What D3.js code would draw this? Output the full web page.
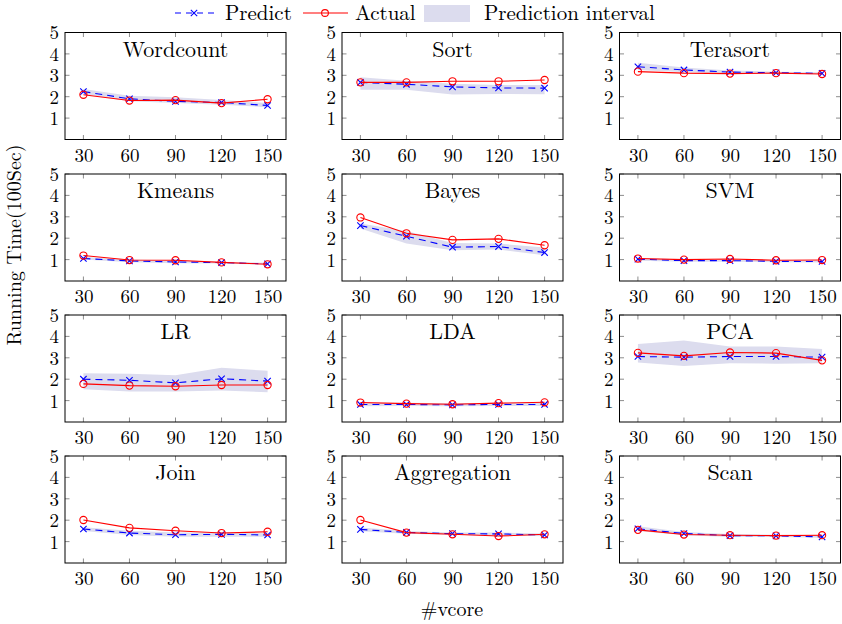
<!DOCTYPE html>
<html>
<head>
<meta charset="utf-8">
<script src="https://cdn.jsdelivr.net/npm/d3@7"></script>
<style>
  body { margin: 0; background: #fff; }
  svg { display: block; }
  text { font-family: "Latin Modern Roman", "Liberation Serif", serif; fill: #000; }
</style>
</head>
<body>
<div id="chart"></div>
<script>
// panel titles, in row order
const titles = ['Wordcount', 'Sort', 'Terasort', 'Kmeans', 'Bayes', 'SVM',
                'LR', 'LDA', 'PCA', 'Join', 'Aggregation', 'Scan'];
const vcores = [30, 60, 90, 120, 150];
const yTicks = [1, 2, 3, 4, 5];

// running time (100 sec), one row per benchmark
const predictVals = [
    [2.24, 1.90, 1.78, 1.73, 1.59],
    [2.67, 2.58, 2.46, 2.41, 2.40],
    [3.40, 3.25, 3.15, 3.12, 3.09],
    [1.05, 0.94, 0.89, 0.86, 0.80],
    [2.59, 2.09, 1.58, 1.61, 1.33],
    [1.02, 0.95, 0.95, 0.92, 0.91],
    [2.00, 1.95, 1.83, 2.02, 1.91],
    [0.82, 0.82, 0.80, 0.82, 0.82],
    [3.06, 3.03, 3.06, 3.06, 3.03],
    [1.59, 1.40, 1.32, 1.34, 1.31],
    [1.57, 1.43, 1.37, 1.36, 1.31],
    [1.60, 1.38, 1.28, 1.27, 1.22]
];
const actualVals = [
    [2.09, 1.82, 1.84, 1.70, 1.88],
    [2.67, 2.67, 2.72, 2.72, 2.78],
    [3.17, 3.10, 3.08, 3.10, 3.06],
    [1.19, 0.98, 0.97, 0.87, 0.78],
    [2.97, 2.23, 1.92, 1.97, 1.67],
    [1.05, 1.00, 1.03, 0.97, 0.98],
    [1.78, 1.70, 1.67, 1.73, 1.73],
    [0.91, 0.86, 0.83, 0.88, 0.92],
    [3.23, 3.09, 3.25, 3.22, 2.88],
    [2.01, 1.64, 1.51, 1.40, 1.46],
    [2.01, 1.42, 1.34, 1.26, 1.34],
    [1.55, 1.33, 1.30, 1.28, 1.30]
];
// prediction interval bounds
const bandLow = [
    [2.13, 1.79, 1.70, 1.62, 1.51],
    [2.32, 2.32, 2.10, 2.13, 2.12],
    [3.25, 3.14, 3.08, 3.06, 3.05],
    [1.00, 0.88, 0.83, 0.82, 0.76],
    [2.45, 1.75, 1.44, 1.47, 1.20],
    [0.95, 0.90, 0.90, 0.88, 0.86],
    [1.53, 1.42, 1.42, 1.47, 1.39],
    [0.74, 0.75, 0.74, 0.75, 0.75],
    [2.78, 2.62, 2.75, 2.72, 2.75],
    [1.50, 1.31, 1.23, 1.23, 1.23],
    [1.48, 1.37, 1.31, 1.29, 1.25],
    [1.50, 1.30, 1.22, 1.22, 1.18]
];
const bandHigh = [
    [2.36, 2.04, 1.98, 1.85, 1.70],
    [2.91, 2.74, 2.60, 2.55, 2.55],
    [3.59, 3.36, 3.23, 3.17, 3.14],
    [1.12, 1.00, 0.95, 0.90, 0.85],
    [2.69, 2.34, 1.78, 1.75, 1.56],
    [1.08, 1.00, 1.00, 0.97, 0.96],
    [2.28, 2.25, 2.19, 2.53, 2.39],
    [0.90, 0.90, 0.88, 0.90, 0.90],
    [3.64, 3.81, 3.53, 3.53, 3.41],
    [1.67, 1.51, 1.42, 1.42, 1.39],
    [1.66, 1.50, 1.42, 1.42, 1.38],
    [1.72, 1.45, 1.35, 1.32, 1.30]
];

const blue = '#0000ff', red = '#ff0000', bandColor = '#dcdcee';

const width = 842, height = 624;
const panelW = 221, panelH = 107;
const colX = [65, 342, 619.5];
const rowY = [32.5, 174, 315, 456];

const svg = d3.select('#chart').append('svg')
    .attr('width', width)
    .attr('height', height);

const x = d3.scaleLinear().domain([18, 162]).range([0, panelW]);
const y = d3.scaleLinear().domain([0, 5]).range([panelH, 0]);

const line = d3.line()
    .x((d, i) => x(vcores[i]))
    .y(d => y(d));

const area = d3.area()
    .x((d, i) => x(vcores[i]))
    .y0(d => y(d[0]))
    .y1(d => y(d[1]));

function drawX(g, cx, cy) {
    const s = 3.2;
    g.append('path')
        .attr('d', `M${cx - s},${cy - s}L${cx + s},${cy + s}M${cx - s},${cy + s}L${cx + s},${cy - s}`)
        .attr('stroke', blue).attr('stroke-width', 1.1).attr('fill', 'none');
}

titles.forEach(function(title, k) {
    const g = svg.append('g')
        .attr('transform', `translate(${colX[k % 3]},${rowY[Math.floor(k / 3)]})`);

    // prediction interval
    g.append('path')
        .datum(bandLow[k].map((lo, i) => [lo, bandHigh[k][i]]))
        .attr('d', area)
        .attr('fill', bandColor);

    // axes: labels outside, ticks inward on all four sides
    const bottom = g.append('g')
        .attr('transform', `translate(0,${panelH})`)
        .call(d3.axisBottom(x).tickValues(vcores).tickSize(0).tickPadding(9).tickFormat(d3.format('d')));
    const left = g.append('g')
        .call(d3.axisLeft(y).tickValues(yTicks).tickSize(0).tickPadding(6).tickFormat(d3.format('d')));
    [bottom, left].forEach(a => {
        a.select('.domain').remove();
        a.selectAll('text')
            .style('font-family', '"Latin Modern Roman", "Liberation Serif", serif')
            .style('font-size', '19px');
    });
    left.selectAll('text').attr('dy', '0.34em');

    const tl = 4.5;
    vcores.forEach(v => {
        g.append('line').attr('x1', x(v)).attr('x2', x(v)).attr('y1', panelH).attr('y2', panelH - tl);
        g.append('line').attr('x1', x(v)).attr('x2', x(v)).attr('y1', 0).attr('y2', tl);
    });
    yTicks.forEach(v => {
        g.append('line').attr('x1', 0).attr('x2', tl).attr('y1', y(v)).attr('y2', y(v));
        g.append('line').attr('x1', panelW).attr('x2', panelW - tl).attr('y1', y(v)).attr('y2', y(v));
    });
    g.selectAll('line').attr('stroke', '#808080').attr('stroke-width', 0.9);

    // predict series
    g.append('path')
        .datum(predictVals[k])
        .attr('d', line)
        .attr('fill', 'none')
        .attr('stroke', blue)
        .attr('stroke-width', 1.1)
        .attr('stroke-dasharray', '7,5');
    predictVals[k].forEach((v, i) => drawX(g, x(vcores[i]), y(v)));

    // actual series
    g.append('path')
        .datum(actualVals[k])
        .attr('d', line)
        .attr('fill', 'none')
        .attr('stroke', red)
        .attr('stroke-width', 1.1);
    g.selectAll('circle.actual').data(actualVals[k]).enter()
        .append('circle')
        .attr('class', 'actual')
        .attr('cx', (d, i) => x(vcores[i]))
        .attr('cy', d => y(d))
        .attr('r', 3.6)
        .attr('fill', 'none')
        .attr('stroke', red)
        .attr('stroke-width', 1.1);

    // frame
    g.append('rect')
        .attr('width', panelW).attr('height', panelH)
        .attr('fill', 'none').attr('stroke', '#000').attr('stroke-width', 1);

    g.append('text')
        .attr('x', panelW / 2)
        .attr('y', 24)
        .attr('text-anchor', 'middle')
        .style('font-size', '22px')
        .text(title);
});

// axis titles
svg.append('text')
    .attr('transform', 'translate(21,245) rotate(-90)')
    .attr('text-anchor', 'middle')
    .style('font-size', '20px')
    .text('Running Time(100Sec)');

svg.append('text')
    .attr('x', 452)
    .attr('y', 616)
    .attr('text-anchor', 'middle')
    .style('font-size', '20px')
    .text('#vcore');

// legend
const legend = svg.append('g');
legend.append('line')
    .attr('x1', 175).attr('x2', 214).attr('y1', 13).attr('y2', 13)
    .attr('stroke', blue).attr('stroke-width', 1.1).attr('stroke-dasharray', '6,5');
drawX(legend, 194, 13);
legend.append('text').attr('x', 225).attr('y', 20).style('font-size', '21px').text('Predict');

legend.append('line')
    .attr('x1', 303).attr('x2', 348).attr('y1', 13).attr('y2', 13)
    .attr('stroke', red).attr('stroke-width', 1.1);
legend.append('circle')
    .attr('cx', 325).attr('cy', 13).attr('r', 3.4)
    .attr('fill', 'none').attr('stroke', red).attr('stroke-width', 1.1);
legend.append('text').attr('x', 355).attr('y', 20).style('font-size', '21px').text('Actual');

legend.append('rect')
    .attr('x', 424).attr('y', 5).attr('width', 46).attr('height', 17)
    .attr('fill', bandColor);
legend.append('text').attr('x', 484).attr('y', 20).style('font-size', '21px').text('Prediction interval');
</script>
</body>
</html>
